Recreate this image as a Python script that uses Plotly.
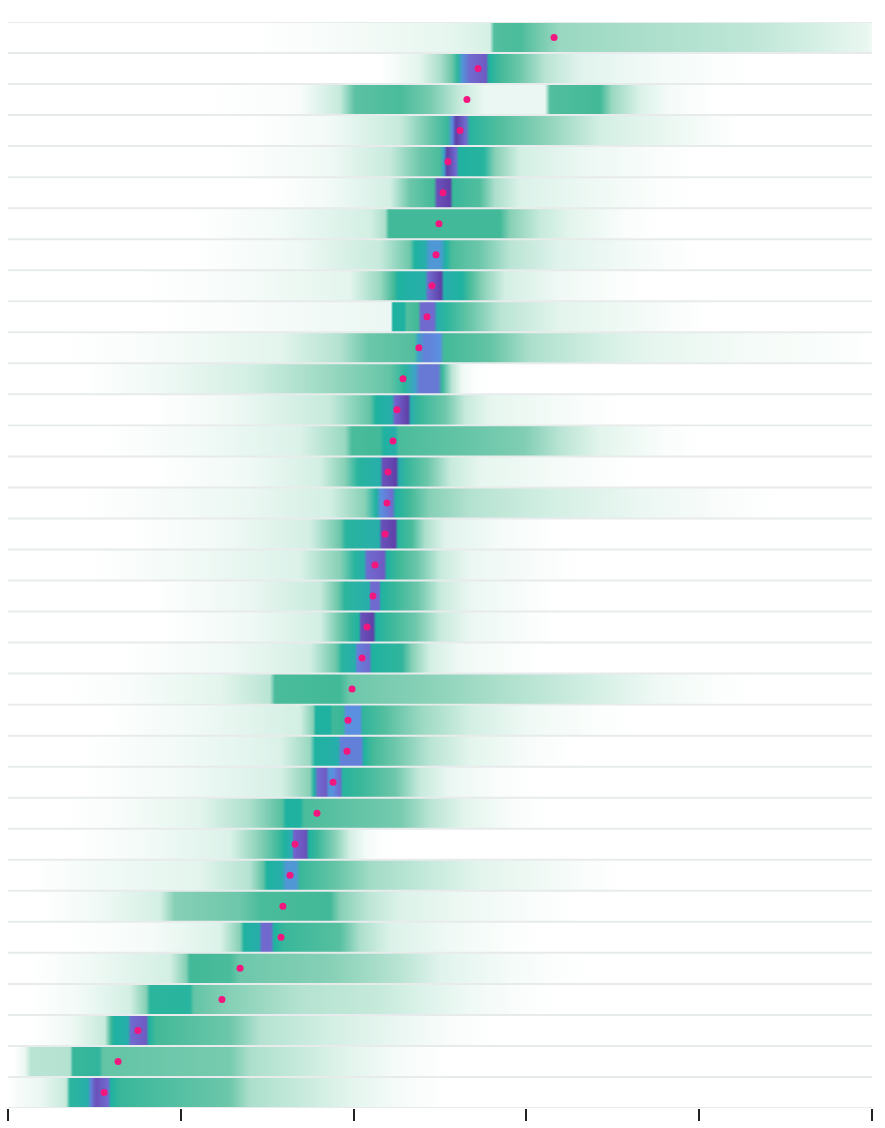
import plotly.graph_objects as go
from plotly.colors import sample_colorscale

# ---- data (x in axis units; ticks at 0..5) ----
tick_vals = [0, 1, 2, 3, 4, 5]

# point estimate per row (top row first)
point_est = [3.160, 2.720, 2.656, 2.616, 2.546, 2.517, 2.494, 2.477, 2.454, 2.425,
             2.378, 2.286, 2.251, 2.228, 2.199, 2.193, 2.182, 2.124, 2.112, 2.078,
             2.049, 1.991, 1.968, 1.962, 1.881, 1.788, 1.661, 1.632, 1.591, 1.580,
             1.343, 1.238, 0.752, 0.637, 0.556]

# density profile knots per row (x positions and relative density 0..1)
knot_x = [
    [0, 1.400, 1.979, 2.558, 2.789, 2.813, 2.963, 3.079, 3.194, 3.715, 4.294, 4.699, 4.977, 5],
    [0, 2.153, 2.384, 2.500, 2.569, 2.604, 2.627, 2.674, 2.766, 2.784, 2.847, 2.963, 3.108, 3.310, 3.715, 4.120, 4.352, 5],
    [0, 1.111, 1.690, 1.921, 2.008, 2.269, 2.442, 2.616, 2.760, 3.108, 3.137, 3.426, 3.495, 3.657, 3.831, 4.120, 5],
    [0, 1.400, 1.863, 2.269, 2.442, 2.546, 2.569, 2.593, 2.650, 2.674, 2.847, 3.079, 3.426, 4.005, 4.236, 5],
    [0, 1.227, 1.863, 2.211, 2.384, 2.500, 2.523, 2.541, 2.593, 2.610, 2.755, 2.818, 2.963, 3.310, 3.773, 4.005, 5],
    [0, 1.516, 1.863, 2.211, 2.326, 2.465, 2.483, 2.558, 2.575, 2.731, 2.818, 2.963, 3.426, 3.773, 4.005, 5],
    [0, 1.053, 1.574, 2.095, 2.182, 2.205, 2.847, 2.905, 3.079, 3.252, 3.542, 3.773, 5],
    [0, 1.053, 1.690, 2.153, 2.326, 2.355, 2.413, 2.442, 2.500, 2.535, 2.569, 2.731, 2.905, 3.194, 3.657, 4.005, 5],
    [0, 0.764, 1.400, 1.979, 2.153, 2.234, 2.257, 2.413, 2.431, 2.506, 2.523, 2.627, 2.674, 2.743, 2.876, 3.194, 3.542, 3.715, 5],
    [0, 0.822, 1.400, 2.182, 2.216, 2.228, 2.292, 2.309, 2.373, 2.390, 2.465, 2.483, 2.535, 2.662, 2.847, 3.194, 3.715, 4.062, 5],
    [0, 0.301, 0.822, 1.574, 1.921, 2.083, 2.350, 2.373, 2.413, 2.500, 2.523, 2.789, 3.021, 3.426, 3.715, 4.294, 4.873, 5],
    [0, 0.417, 0.880, 1.400, 1.863, 2.211, 2.297, 2.355, 2.384, 2.488, 2.512, 2.569, 2.627, 2.703, 2.847, 5],
    [0, 0.822, 1.285, 1.863, 2.095, 2.130, 2.222, 2.240, 2.315, 2.332, 2.384, 2.529, 2.645, 2.789, 3.194, 3.542, 5],
    [0, 0.532, 1.111, 1.690, 1.950, 1.991, 2.153, 2.176, 2.240, 2.263, 2.616, 2.992, 3.194, 3.426, 3.773, 4.005, 5],
    [0, 0.822, 1.400, 1.806, 1.950, 2.025, 2.153, 2.170, 2.245, 2.263, 2.315, 2.431, 2.558, 2.731, 3.194, 3.657, 5],
    [0, 0.417, 0.822, 1.400, 1.863, 2.066, 2.130, 2.159, 2.222, 2.245, 2.326, 2.442, 2.674, 3.137, 3.657, 4.120, 4.468, 5],
    [0, 0.706, 1.285, 1.748, 1.921, 1.956, 2.147, 2.164, 2.240, 2.257, 2.338, 2.413, 2.529, 2.847, 3.194, 5],
    [0, 0.475, 1.111, 1.690, 1.921, 2.008, 2.060, 2.078, 2.176, 2.193, 2.269, 2.373, 2.500, 2.674, 3.079, 3.310, 5],
    [0, 0.822, 1.400, 1.806, 1.910, 1.950, 2.089, 2.101, 2.147, 2.159, 2.240, 2.373, 2.500, 2.674, 3.021, 3.194, 5],
    [0, 0.880, 1.400, 1.806, 1.921, 1.979, 2.031, 2.043, 2.112, 2.130, 2.211, 2.355, 2.500, 2.674, 3.021, 3.194, 5],
    [0, 0.648, 1.285, 1.748, 1.898, 1.933, 2.008, 2.020, 2.089, 2.106, 2.280, 2.338, 2.442, 2.616, 2.963, 3.137, 5],
    [0, 0.301, 0.706, 1.227, 1.516, 1.545, 1.921, 1.979, 2.384, 2.847, 3.426, 3.773, 4.120, 4.352, 5],
    [0, 0.532, 1.111, 1.690, 1.765, 1.782, 1.863, 1.881, 1.939, 1.956, 2.037, 2.054, 2.176, 2.384, 2.674, 3.021, 3.426, 3.657, 5],
    [0, 0.417, 0.995, 1.574, 1.748, 1.777, 1.910, 1.927, 2.043, 2.060, 2.106, 2.240, 2.442, 2.674, 3.021, 3.310, 5],
    [0, 0.417, 0.995, 1.574, 1.748, 1.771, 1.794, 1.840, 1.858, 1.881, 1.921, 1.939, 2.037, 2.240, 2.384, 2.558, 2.847, 3.079, 5],
    [0, 0.301, 0.648, 1.111, 1.400, 1.586, 1.609, 1.690, 1.713, 1.921, 2.269, 2.442, 2.645, 2.905, 3.137, 5],
    [0, 0.359, 0.822, 1.285, 1.458, 1.574, 1.603, 1.644, 1.655, 1.725, 1.742, 1.788, 1.892, 1.979, 2.066, 2.153, 2.269, 5],
    [0, 0.127, 0.532, 1.111, 1.400, 1.476, 1.499, 1.586, 1.609, 1.667, 1.690, 1.892, 2.095, 2.442, 2.731, 3.194, 3.542, 5],
    [0, 0.185, 0.532, 0.880, 0.966, 1.343, 1.458, 1.863, 1.921, 2.095, 2.269, 2.616, 3.079, 3.310, 5],
    [0, 0.301, 0.822, 1.227, 1.343, 1.366, 1.453, 1.470, 1.522, 1.539, 1.603, 1.921, 2.037, 2.211, 2.558, 2.905, 3.137, 5],
    [0, 0.127, 0.475, 0.938, 1.030, 1.053, 1.285, 1.343, 1.863, 2.269, 2.500, 2.847, 3.194, 3.426, 5],
    [0, 0.127, 0.417, 0.706, 0.799, 0.822, 1.053, 1.076, 1.285, 1.690, 2.153, 2.384, 2.674, 2.963, 3.194, 5],
    [0, 0.127, 0.359, 0.561, 0.596, 0.613, 0.694, 0.712, 0.799, 0.816, 0.856, 1.285, 1.458, 1.863, 2.269, 2.558, 2.847, 5],
    [0, 0.035, 0.098, 0.133, 0.359, 0.376, 0.527, 0.550, 1.285, 1.400, 1.690, 1.979, 2.269, 2.558, 5],
    [0, 0.035, 0.185, 0.336, 0.359, 0.463, 0.480, 0.509, 0.579, 0.596, 0.654, 1.285, 1.400, 1.690, 1.979, 2.269, 2.558, 5],
]

knot_z = [
    [0, 0, 0.08, 0.18, 0.28, 0.66, 0.68, 0.58, 0.50, 0.45, 0.38, 0.28, 0.16, 0.10],
    [0, 0, 0.20, 0.45, 0.60, 0.75, 0.88, 0.95, 0.97, 0.78, 0.70, 0.60, 0.40, 0.22, 0.10, 0.03, 0, 0],
    [0, 0, 0.05, 0.35, 0.64, 0.68, 0.58, 0.35, 0.15, 0.15, 0.66, 0.70, 0.50, 0.25, 0.08, 0, 0],
    [0, 0, 0.10, 0.35, 0.60, 0.72, 0.90, 1.00, 0.95, 0.76, 0.66, 0.55, 0.30, 0.08, 0, 0],
    [0, 0, 0.12, 0.35, 0.60, 0.68, 0.85, 1.00, 0.95, 0.78, 0.76, 0.55, 0.30, 0.15, 0.04, 0, 0],
    [0, 0, 0.10, 0.30, 0.60, 0.70, 0.98, 1.00, 0.72, 0.66, 0.45, 0.25, 0.12, 0.03, 0, 0],
    [0, 0, 0.10, 0.30, 0.45, 0.70, 0.70, 0.55, 0.35, 0.20, 0.06, 0, 0],
    [0, 0, 0.12, 0.35, 0.60, 0.78, 0.80, 0.88, 0.88, 0.78, 0.68, 0.60, 0.40, 0.22, 0.08, 0, 0],
    [0, 0, 0.08, 0.20, 0.50, 0.70, 0.78, 0.80, 0.95, 1.00, 0.80, 0.78, 0.68, 0.55, 0.30, 0.12, 0.03, 0, 0],
    [0, 0, 0.06, 0.15, 0.15, 0.78, 0.78, 0.66, 0.70, 0.95, 0.95, 0.80, 0.75, 0.62, 0.40, 0.20, 0.08, 0, 0],
    [0, 0, 0.06, 0.20, 0.42, 0.60, 0.66, 0.85, 0.92, 0.90, 0.70, 0.62, 0.45, 0.30, 0.18, 0.08, 0.03, 0],
    [0, 0, 0.12, 0.30, 0.50, 0.62, 0.75, 0.85, 0.93, 0.93, 0.72, 0.40, 0.12, 0.02, 0, 0],
    [0, 0, 0.12, 0.35, 0.62, 0.78, 0.80, 0.96, 1.00, 0.80, 0.72, 0.60, 0.35, 0.18, 0.08, 0, 0],
    [0, 0, 0.10, 0.25, 0.50, 0.68, 0.70, 0.78, 0.80, 0.68, 0.62, 0.56, 0.40, 0.20, 0.06, 0, 0],
    [0, 0, 0.12, 0.30, 0.55, 0.76, 0.80, 0.98, 1.00, 0.80, 0.72, 0.60, 0.35, 0.18, 0.08, 0, 0],
    [0, 0, 0.06, 0.15, 0.30, 0.55, 0.78, 0.90, 0.95, 0.78, 0.70, 0.55, 0.42, 0.30, 0.15, 0.05, 0, 0],
    [0, 0, 0.12, 0.30, 0.60, 0.76, 0.80, 0.98, 1.00, 0.76, 0.68, 0.45, 0.22, 0.08, 0, 0],
    [0, 0, 0.12, 0.25, 0.55, 0.76, 0.80, 0.95, 0.97, 0.78, 0.70, 0.60, 0.35, 0.15, 0.05, 0, 0],
    [0, 0, 0.15, 0.35, 0.60, 0.75, 0.80, 0.95, 0.95, 0.78, 0.72, 0.60, 0.35, 0.15, 0.04, 0, 0],
    [0, 0, 0.12, 0.30, 0.60, 0.72, 0.78, 0.98, 1.00, 0.78, 0.72, 0.60, 0.35, 0.15, 0.04, 0, 0],
    [0, 0, 0.12, 0.30, 0.60, 0.76, 0.80, 0.92, 0.95, 0.78, 0.74, 0.55, 0.30, 0.12, 0.03, 0, 0],
    [0, 0, 0.06, 0.20, 0.40, 0.68, 0.70, 0.60, 0.55, 0.45, 0.28, 0.12, 0.03, 0, 0],
    [0, 0, 0.12, 0.30, 0.55, 0.78, 0.78, 0.70, 0.72, 0.90, 0.90, 0.74, 0.66, 0.50, 0.30, 0.12, 0.03, 0, 0],
    [0, 0, 0.10, 0.25, 0.50, 0.78, 0.80, 0.92, 0.92, 0.78, 0.70, 0.60, 0.40, 0.20, 0.06, 0, 0],
    [0, 0, 0.10, 0.28, 0.55, 0.78, 0.95, 0.97, 0.88, 0.90, 0.95, 0.76, 0.72, 0.60, 0.35, 0.15, 0.04, 0, 0],
    [0, 0, 0.06, 0.20, 0.45, 0.65, 0.78, 0.78, 0.68, 0.64, 0.58, 0.40, 0.20, 0.06, 0, 0],
    [0, 0, 0.10, 0.25, 0.55, 0.72, 0.78, 0.82, 0.96, 0.98, 0.78, 0.72, 0.55, 0.30, 0.10, 0.02, 0, 0],
    [0, 0, 0.10, 0.20, 0.42, 0.62, 0.78, 0.80, 0.88, 0.88, 0.72, 0.62, 0.48, 0.35, 0.20, 0.08, 0, 0],
    [0, 0, 0.12, 0.30, 0.55, 0.60, 0.68, 0.70, 0.55, 0.38, 0.25, 0.14, 0.04, 0, 0],
    [0, 0, 0.08, 0.25, 0.55, 0.78, 0.80, 0.95, 0.95, 0.78, 0.72, 0.65, 0.45, 0.25, 0.12, 0.03, 0, 0],
    [0, 0, 0.12, 0.30, 0.55, 0.70, 0.68, 0.60, 0.55, 0.40, 0.22, 0.10, 0.02, 0, 0],
    [0, 0, 0.10, 0.30, 0.55, 0.75, 0.76, 0.62, 0.55, 0.42, 0.35, 0.25, 0.12, 0.04, 0, 0],
    [0, 0, 0.12, 0.35, 0.70, 0.78, 0.80, 0.95, 0.97, 0.78, 0.70, 0.60, 0.42, 0.30, 0.15, 0.05, 0, 0],
    [0, 0, 0.15, 0.40, 0.42, 0.72, 0.74, 0.62, 0.58, 0.45, 0.35, 0.20, 0.07, 0, 0],
    [0, 0.05, 0.15, 0.35, 0.75, 0.80, 0.92, 0.98, 0.95, 0.78, 0.72, 0.60, 0.45, 0.35, 0.20, 0.07, 0, 0],
]

density_scale = [
    [0.00, "#ffffff"],
    [0.12, "#f0f9f5"],
    [0.30, "#d3efe4"],
    [0.45, "#acdfcc"],
    [0.55, "#86d0b6"],
    [0.62, "#63c4a5"],
    [0.70, "#42b998"],
    [0.78, "#1fb2a0"],
    [0.84, "#37a7c2"],
    [0.90, "#5b8fdf"],
    [0.96, "#7462cc"],
    [1.00, "#5f40a8"],
]

n_rows = len(point_est)
half = 0.468  # half of strip thickness in row units
x_lo, x_hi = tick_vals[0], tick_vals[-1]

fig = go.Figure()
for i in range(n_rows):
    row = i + 1
    colors = sample_colorscale(density_scale, knot_z[i])
    stops = [[(xv - x_lo) / (x_hi - x_lo), c] for xv, c in zip(knot_x[i], colors)]
    fig.add_trace(go.Scatter(
        x=[x_lo, x_hi, x_hi, x_lo, x_lo],
        y=[row - half, row - half, row + half, row + half, row - half],
        mode="none",
        fill="toself",
        fillgradient=dict(type="horizontal", colorscale=stops),
        hoverinfo="skip",
        showlegend=False,
    ))

fig.add_trace(go.Scatter(
    x=point_est,
    y=list(range(1, n_rows + 1)),
    mode="markers",
    marker=dict(color="#f2177f", size=7, line=dict(width=0)),
    hoverinfo="skip",
    showlegend=False,
))

fig.update_layout(
    width=885, height=1128,
    margin=dict(l=8, r=13, t=22, b=12),
    paper_bgcolor="white",
    plot_bgcolor="#e7ebeb",
    showlegend=False,
    xaxis=dict(range=[x_lo, x_hi], tickvals=tick_vals, showticklabels=False,
               ticks="outside", ticklen=12, tickwidth=2, tickcolor="#222",
               showgrid=False, zeroline=False, showline=False),
    yaxis=dict(range=[n_rows + 0.5, 0.5], visible=False,
               showgrid=False, zeroline=False),
)

fig.write_html("out.html")
